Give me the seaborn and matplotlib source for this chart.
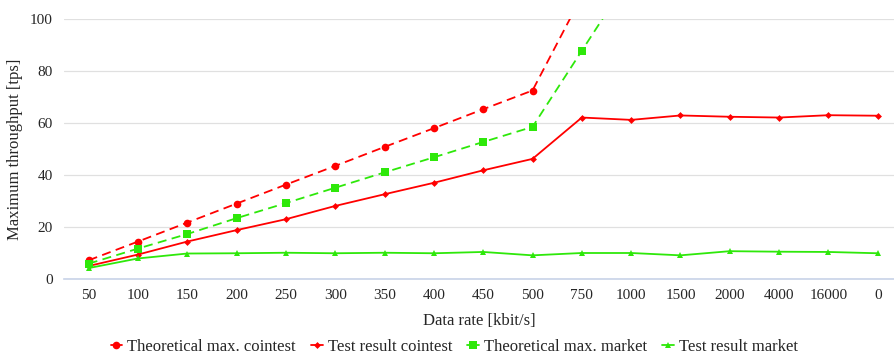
"""
Maximum throughput vs data rate, cointest and market
"""
import numpy as np
import pandas as pd
import seaborn as sns
import matplotlib.pyplot as plt
from matplotlib.lines import Line2D
from matplotlib.ticker import FixedLocator

# categorias do eixo x
rates = ['50', '100', '150', '200', '250', '300', '350', '400', '450', '500',
         '750', '1000', '1500', '2000', '4000', '16000', '0']

nan = np.nan
theo_cointest = [7.2, 14.4, 21.7, 29.0, 36.3, 43.5, 50.8, 58.0, 65.3, 72.5,
                 108.8, 145.0, nan, nan, nan, nan, nan]
test_cointest = [5.0, 9.4, 14.4, 18.8, 23.0, 28.1, 32.6, 37.0, 41.8, 46.2,
                 62.1, 61.2, 62.9, 62.4, 62.1, 63.0, 62.8]
theo_market = [5.9, 11.7, 17.3, 23.4, 29.2, 35.1, 41.0, 46.8, 52.7, 58.5,
               87.8, 117.0, nan, nan, nan, nan, nan]
test_market = [4.2, 7.9, 9.8, 9.9, 10.1, 9.9, 10.1, 9.9, 10.4, 9.1,
               10.0, 10.0, 9.1, 10.7, 10.5, 10.4, 9.9]

red = '#ff0000'
green = '#2ee80a'

series = [
    ('Theoretical max. cointest', theo_cointest, red, 'o', True, 5.5),
    ('Test result cointest', test_cointest, red, 'D', False, 3.5),
    ('Theoretical max. market', theo_market, green, 's', True, 6),
    ('Test result market', test_market, green, '^', False, 5),
]

sns.set_style('white')
plt.rcParams['font.family'] = ['Liberation Serif', 'DejaVu Serif']

fig = plt.figure(figsize=(8.94, 3.59), dpi=100)
ax = fig.add_axes([64 / 894, 80 / 359, 830 / 894, 260 / 359])

pos = np.arange(len(rates))
handles = []
for label, vals, color, marker, dashed, ms in series:
    df = pd.DataFrame({'x': pos, 'y': vals})
    sns.lineplot(data=df, x='x', y='y', ax=ax, color=color, marker=marker,
                 markersize=ms, markeredgewidth=0, linewidth=1.3,
                 dashes=False, sort=False)
    line = ax.get_lines()[-1]
    if dashed:
        line.set_dashes((5, 3))
    handles.append(Line2D([], [], color=color, marker=marker, markersize=ms,
                          markeredgewidth=0, linewidth=1.3, label=label))

ax.set_xlim(-0.5, 16.33)
ax.set_ylim(0, 100)
ax.set_yticks([0, 20, 40, 60, 80, 100])
ax.set_xticks(pos)
ax.set_xticklabels(rates)
ax.xaxis.set_minor_locator(FixedLocator(np.arange(-0.5, 16.5, 1.0)))
ax.tick_params(axis='x', which='major', length=0, labelsize=11, pad=7)
ax.tick_params(axis='x', which='minor', length=5, color='#c8d3e8', width=1)
ax.tick_params(axis='y', length=0, labelsize=11, pad=8)

ax.grid(axis='y', color='#e0e0e0', linewidth=0.9)
ax.set_axisbelow(True)
sns.despine(ax=ax, left=True)
ax.spines['bottom'].set_color('#c8d3e8')
ax.spines['bottom'].set_linewidth(1.2)

ax.set_xlabel('Data rate [kbit/s]', fontsize=12, labelpad=8)
ax.set_ylabel('Maximum throughput [tps]', fontsize=12, labelpad=5)

ax.legend(handles=handles, loc='upper center', bbox_to_anchor=(0.47, -0.205),
          ncol=4, frameon=False, fontsize=12, handlelength=0.7,
          handletextpad=0.3, columnspacing=0.9, borderaxespad=0)

plt.savefig('out.png', dpi=100)
plt.close()
